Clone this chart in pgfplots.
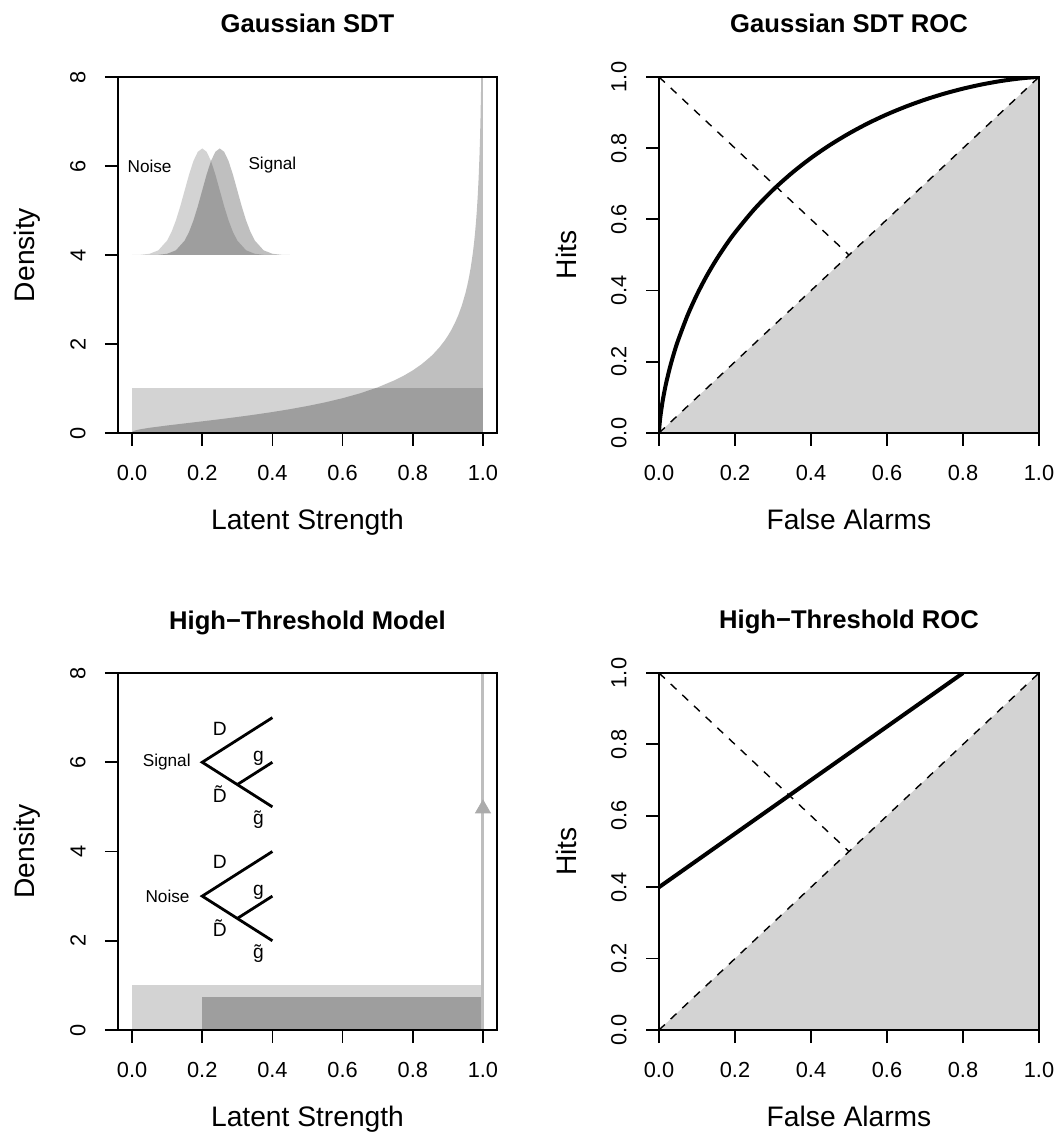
\documentclass[border=0pt]{standalone}
\usepackage{fontspec}
\setmainfont{Liberation Sans}
\usepackage{pgfplots}
\pgfplotsset{compat=1.18}
\definecolor{noisegray}{HTML}{D3D3D3}
\definecolor{linegray}{HTML}{BEBEBE}
\pgfplotsset{
  rbase/.style={
    scale only axis,
    axis on top,
    axis line style={line width=0.9pt},
    tick align=outside,
    xtick pos=left, ytick pos=left,
    major tick length=6.5pt,
    every tick/.style={black, line width=0.9pt},
    tick label style={font=\fontsize{10.9}{12}\selectfont},
    /pgf/number format/assume math mode=true,
    xticklabel style={anchor=north, inner sep=0pt},
    yticklabel style={rotate=90, anchor=south, inner sep=0pt},
    xticklabel shift=9.5pt,
    yticklabel shift=9.5pt,
    every axis title shift=0pt,
    title style={at={(axis description cs:0.5,1)}, anchor=base, yshift=22pt, font=\bfseries\fontsize{12.8}{14}\selectfont},
    xlabel style={at={([yshift=-48.5pt]axis description cs:0.5,0)}, anchor=base, font=\fontsize{14.1}{16}\selectfont},
    ylabel style={at={([xshift=-41.5pt]axis description cs:0,0.5)}, anchor=base, rotate=0, font=\fontsize{14.1}{16}\selectfont},
  },
  dens/.style={rbase, xmin=-0.04, xmax=1.04, ymin=0, ymax=8,
    xtick={0,0.2,...,1.0}, ytick={0,2,4,6,8},
    xticklabel style={/pgf/number format/fixed, /pgf/number format/fixed zerofill, /pgf/number format/precision=1},
    xlabel={Latent Strength}, ylabel={Density}},
  roc/.style={rbase, xmin=0, xmax=1, ymin=0, ymax=1,
    xtick={0,0.2,...,1.0}, ytick={0,0.2,...,1.0},
    ticklabel style={/pgf/number format/fixed, /pgf/number format/fixed zerofill, /pgf/number format/precision=1},
    xlabel={False Alarms}, ylabel={Hits}},
  dash/.style={black, line width=0.7pt, dash pattern=on 4pt off 4pt},
}
\begin{document}
\begin{tikzpicture}
\path[use as bounding box] (0,0) rectangle (527.5pt,566.5pt);
% ---------- Panel 1 ----------
\begin{axis}[dens, at={(59pt,350pt)}, anchor=south west, width=189.5pt, height=178pt, title={Gaussian SDT}]
\addplot[fill=noisegray, draw=none] coordinates {(0,0) (0,1) (1,1) (1,0)} -- cycle;
\addplot[fill=black, fill opacity=0.25, draw=none] coordinates {
(0,0) (0.0001,0.0147) (0.001,0.0276) (0.005,0.0462) (0.01,0.0592) (0.025,0.0854) (0.05,0.117)
(0.1,0.1683) (0.15,0.2152) (0.2,0.2614) (0.25,0.309) (0.3,0.359) (0.35,0.4126) (0.4,0.4708)
(0.45,0.5349) (0.5,0.6065) (0.55,0.6878) (0.6,0.7814) (0.65,0.8916) (0.7,1.0247) (0.75,1.1907)
(0.775,1.291) (0.8,1.4072) (0.825,1.544) (0.85,1.7097) (0.86,1.787) (0.875,1.916) (0.89,2.068)
(0.9,2.185) (0.91,2.318) (0.92,2.4722) (0.93,2.653) (0.94,2.8714) (0.95,3.1422) (0.955,3.305)
(0.96,3.4929) (0.965,3.713) (0.97,3.9781) (0.9725,4.133) (0.975,4.306) (0.9775,4.503) (0.98,4.7289)
(0.9825,4.995) (0.985,5.3127) (0.9875,5.706) (0.99,6.2112) (0.9915,6.598)
(0.993,7.0801) (0.9945,7.712) (0.995,7.9706) (0.997,9.467) (0.999,13.33) (1,13.33) (1,0)} -- cycle;
\addplot[fill=noisegray, draw=none] coordinates {
(0,4) (0.025,4.005) (0.05,4.027) (0.075,4.105) (0.1,4.324) (0.1125,4.518) (0.125,4.777)
(0.1375,5.096) (0.15,5.452) (0.1625,5.807) (0.175,6.113) (0.1875,6.320) (0.2,6.394)
(0.2125,6.320) (0.225,6.113) (0.2375,5.807) (0.25,5.452) (0.2625,5.096) (0.275,4.777)
(0.2875,4.518) (0.3,4.324) (0.325,4.105) (0.35,4.027) (0.375,4.005) (0.4,4)} -- cycle;
\addplot[fill=black, fill opacity=0.25, draw=none] coordinates {
(0.05,4) (0.075,4.005) (0.1,4.027) (0.125,4.105) (0.15,4.324) (0.1625,4.518) (0.175,4.777)
(0.1875,5.096) (0.2,5.452) (0.2125,5.807) (0.225,6.113) (0.2375,6.320) (0.25,6.394)
(0.2625,6.320) (0.275,6.113) (0.2875,5.807) (0.3,5.452) (0.3125,5.096) (0.325,4.777)
(0.3375,4.518) (0.35,4.324) (0.375,4.105) (0.4,4.027) (0.425,4.005) (0.45,4)} -- cycle;
\node[font=\fontsize{8.6}{10}\selectfont] at (axis cs:0.05,6.0) {Noise};
\node[font=\fontsize{8.6}{10}\selectfont] at (axis cs:0.4,6.03) {Signal};
\end{axis}
% ---------- Panel 2 ----------
\begin{axis}[roc, at={(329.5pt,350pt)}, anchor=south west, width=190pt, height=178pt, title={Gaussian SDT ROC}]
\addplot[fill=noisegray, draw=none] coordinates {(0,0) (1,0) (1,1)} -- cycle;
\addplot[dash] coordinates {(0,0) (1,1)};
\addplot[dash] coordinates {(0,1) (0.5,0.5)};
\addplot[black, line width=2pt, smooth] coordinates {
(0,0) (0.00001,0.00055) (0.0001,0.00327) (0.0005,0.0110) (0.001,0.0183) (0.002,0.0302) (0.003,0.0402)
(0.005,0.0575) (0.01,0.0924) (0.015,0.1210) (0.02,0.1460) (0.03,0.1892) (0.04,0.2264) (0.05,0.2595)
(0.075,0.3301) (0.1,0.3891) (0.125,0.4403) (0.15,0.4855) (0.175,0.5261) (0.2,0.5629) (0.25,0.6276)
(0.3,0.6828) (0.35,0.7306) (0.4,0.7724) (0.45,0.8090) (0.5,0.8413) (0.55,0.8699) (0.6,0.8950)
(0.65,0.9170) (0.7,0.9363) (0.75,0.9530) (0.8,0.9672) (0.85,0.9791) (0.9,0.9887) (0.95,0.9959)
(0.99,0.99956) (1,1)};
\end{axis}
% ---------- Panel 3 ----------
\begin{axis}[dens, at={(59pt,51.5pt)}, anchor=south west, width=189.5pt, height=178.5pt, title={High−Threshold Model}]
\addplot[fill=noisegray, draw=none] coordinates {(0,0) (0,1) (1,1) (1,0)} -- cycle;
\addplot[fill=black, fill opacity=0.25, draw=none] coordinates {(0.2,0) (0.2,0.75) (1,0.75) (1,0)} -- cycle;
\addplot[linegray, line width=1.5pt] coordinates {(1,0) (1,8)};
\addplot[only marks, mark=triangle*, mark size=4.3pt, color=linegray!90!black] coordinates {(1,4.96)};
\addplot[black, line width=1.4pt] coordinates {(0.4,7) (0.2,6) (0.4,5)};
\addplot[black, line width=1.4pt] coordinates {(0.3,5.5) (0.4,6)};
\addplot[black, line width=1.4pt] coordinates {(0.4,4) (0.2,3) (0.4,2)};
\addplot[black, line width=1.4pt] coordinates {(0.3,2.5) (0.4,3)};
\begin{scope}[every node/.style={font=\fontsize{9.6}{10}\selectfont, inner sep=0pt}]
\node[anchor=base] at (axis cs:0.25,6.61) {D};
\node[anchor=base] at (axis cs:0.36,6.01) {g};
\node[anchor=base] at (axis cs:0.25,5.09) {\~{D}};
\node[anchor=base] at (axis cs:0.36,4.60) {\~{g}};
\node[anchor=base] at (axis cs:0.25,3.61) {D};
\node[anchor=base] at (axis cs:0.36,3.01) {g};
\node[anchor=base] at (axis cs:0.25,2.09) {\~{D}};
\node[anchor=base] at (axis cs:0.36,1.60) {\~{g}};
\node[anchor=east, font=\fontsize{8.6}{10}\selectfont] at (axis cs:0.168,6.0) {Signal};
\node[anchor=east, font=\fontsize{8.6}{10}\selectfont] at (axis cs:0.165,3.0) {Noise};
\end{scope}
\end{axis}
% ---------- Panel 4 ----------
\begin{axis}[roc, at={(329.5pt,51.5pt)}, anchor=south west, width=190pt, height=178.5pt, title={High−Threshold ROC}]
\addplot[fill=noisegray, draw=none] coordinates {(0,0) (1,0) (1,1)} -- cycle;
\addplot[dash] coordinates {(0,0) (1,1)};
\addplot[dash] coordinates {(0,1) (0.5,0.5)};
\addplot[black, line width=2pt] coordinates {(0,0.4) (0.8,1)};
\end{axis}
\end{tikzpicture}
\end{document}
